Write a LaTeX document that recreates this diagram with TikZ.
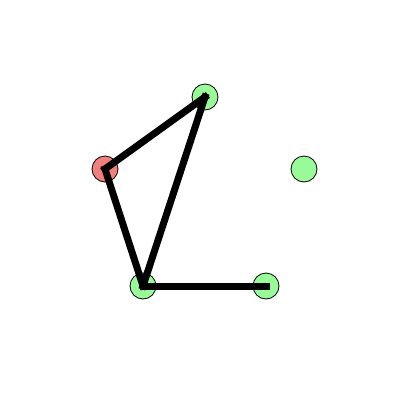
\documentclass[tikz,border=0pt]{standalone}
\definecolor{pgreen}{RGB}{152,251,152}
\definecolor{pred}{RGB}{240,128,128}
\begin{document}
\begin{tikzpicture}[x=1pt,y=-1pt,
  dot/.style={circle,draw=black,line width=0.8pt,minimum size=26pt,inner sep=0pt},
  gdot/.style={dot,fill=pgreen},
  rdot/.style={dot,fill=pred},
  edge/.style={line width=7pt,line cap=rect,black}]
\useasboundingbox (0,0) rectangle (400,400);
\fill[white] (0,0) rectangle (400,400);
\node[gdot] (t) at (205,97) {};
\node[rdot] (r) at (105,169) {};
\node[gdot] (e) at (304,169) {};
\node[gdot] (bl) at (143,286) {};
\node[gdot] (br) at (266,286) {};
\draw[edge] (r.center) -- (t.center);
\draw[edge] (t.center) -- (bl.center);
\draw[edge] (r.center) -- (bl.center);
\draw[edge] (bl.center) -- (br.center);
\end{tikzpicture}
\end{document}
